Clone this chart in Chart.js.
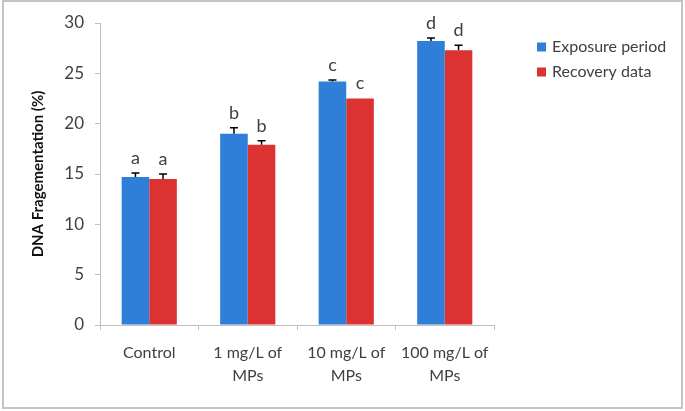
<!DOCTYPE html>
<html>
<head>
<meta charset="utf-8">
<script src="https://cdn.jsdelivr.net/npm/chart.js@4.4.1/dist/chart.umd.min.js"></script>
<style>
    body { margin: 0; background: #ffffff; }
    #wrap { position: relative; width: 685px; height: 411px; }
    #frame { position: absolute; left: 2px; top: 0px; width: 677px; height: 405px; border: 2px solid #c4c4c4; pointer-events: none; }
</style>
</head>
<body>
<div id="wrap">
    <canvas id="dnaChart" width="685" height="411"></canvas>
    <div id="frame"></div>
</div>
<script>
// datos
const categories = ['Control', ['1 mg/L of', 'MPs'], ['10 mg/L of', 'MPs'], ['100 mg/L of', 'MPs']];
const exposure = [14.7, 19.0, 24.2, 28.2];
const recovery = [14.5, 17.9, 22.5, 27.3];
const exposureErr = [0.4, 0.6, 0.15, 0.3];
const recoveryErr = [0.5, 0.4, 0, 0.5];
const exposureLetters = ['a', 'b', 'c', 'd'];
const recoveryLetters = ['a', 'b', 'c', 'd'];
const yTicks = [0, 5, 10, 15, 20, 25, 30];

const FONT = 'Lato, "Liberation Sans", sans-serif';
const TXT = '#404040';
const AXIS = '#bfbfbf';

// barras de error + letras de significancia
const errorBarsPlugin = {
    id: 'errorBars',
    afterDatasetsDraw(chart) {
        const ctx = chart.ctx;
        const y = chart.scales.y;
        const errs = [exposureErr, recoveryErr];
        const letters = [exposureLetters, recoveryLetters];
        ctx.save();
        chart.data.datasets.forEach((ds, di) => {
            chart.getDatasetMeta(di).data.forEach((bar, i) => {
                const top = y.getPixelForValue(ds.data[i] + errs[di][i]);
                if (errs[di][i] > 0) {
                    ctx.strokeStyle = '#000000';
                    ctx.lineWidth = 1.5;
                    ctx.beginPath();
                    ctx.moveTo(bar.x, bar.y);
                    ctx.lineTo(bar.x, top);
                    ctx.moveTo(bar.x - 4, top);
                    ctx.lineTo(bar.x + 4, top);
                    ctx.stroke();
                }
                ctx.fillStyle = TXT;
                ctx.font = '18px ' + FONT;
                ctx.textAlign = 'center';
                ctx.textBaseline = 'bottom';
                ctx.fillText(letters[di][i], bar.x, top - 6);
            });
        });
        ctx.restore();
    }
};

// leyenda dibujada a mano a la derecha
const sideLegendPlugin = {
    id: 'sideLegend',
    afterDraw(chart) {
        const ctx = chart.ctx;
        ctx.save();
        ctx.font = '16px ' + FONT;
        ctx.textBaseline = 'middle';
        ctx.textAlign = 'left';
        chart.data.datasets.forEach((ds, i) => {
            const cy = 47 + i * 25;
            ctx.fillStyle = ds.backgroundColor;
            ctx.fillRect(537, cy - 4.5, 9, 9);
            ctx.fillStyle = TXT;
            ctx.fillText(ds.label, 552, cy);
        });
        ctx.restore();
    }
};

new Chart(document.getElementById('dnaChart'), {
    type: 'bar',
    data: {
        labels: categories,
        datasets: [
            { label: 'Exposure period', data: exposure, backgroundColor: '#2f7ed8', categoryPercentage: 0.56, barPercentage: 1.0 },
            { label: 'Recovery data', data: recovery, backgroundColor: '#dc3232', categoryPercentage: 0.56, barPercentage: 1.0 }
        ]
    },
    options: {
        responsive: false,
        animation: false,
        layout: { padding: { left: 0, right: 191, top: 23, bottom: 0 } },
        plugins: { legend: { display: false }, tooltip: { enabled: false } },
        scales: {
            x: {
                grid: { display: true, drawOnChartArea: false, drawTicks: true, tickLength: 5, color: AXIS, offset: true },
                border: { display: true, color: AXIS, width: 1 },
                ticks: { color: TXT, font: { family: FONT, size: 16, lineHeight: 1.4 }, padding: 12, maxRotation: 0, autoSkip: false },
                afterFit(s) { s.height = 86; }
            },
            y: {
                min: 0,
                max: 30,
                afterBuildTicks(s) { s.ticks = yTicks.map(v => ({ value: v })); },
                grid: { display: true, drawOnChartArea: false, drawTicks: true, tickLength: 5, color: AXIS },
                border: { display: true, color: AXIS, width: 1 },
                ticks: { color: TXT, font: { family: FONT, size: 17 }, padding: 11 },
                title: { display: true, text: 'DNA Fragementation (%)', color: '#111111', font: { family: FONT, size: 15, weight: 'bold' }, padding: { top: 29, bottom: 0 } },
                afterFit(s) { s.width = 100; }
            }
        }
    },
    plugins: [errorBarsPlugin, sideLegendPlugin]
});
</script>
</body>
</html>
